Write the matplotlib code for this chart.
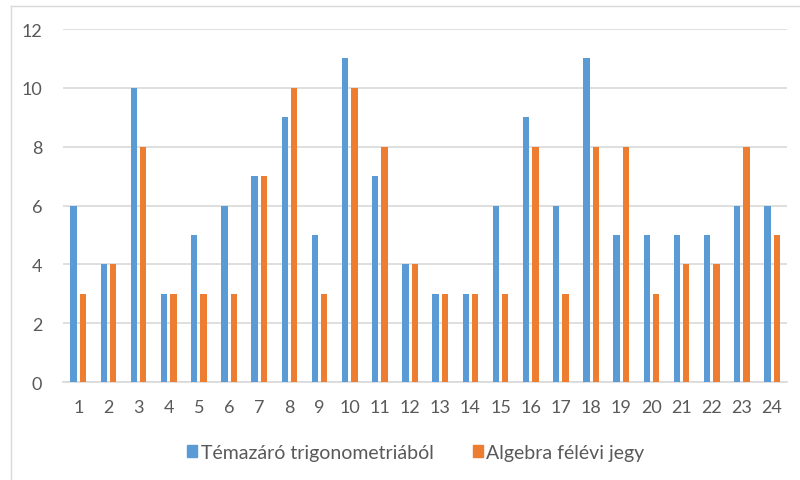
import matplotlib
matplotlib.use("Agg")
import matplotlib.pyplot as plt
import numpy as np
from matplotlib.patches import Patch
from matplotlib.lines import Line2D

categories = [str(i) for i in range(1, 25)]
trig = [6, 4, 10, 3, 5, 6, 7, 9, 5, 11, 7, 4, 3, 3, 6, 9, 6, 11, 5, 5, 5, 5, 6, 6]
algebra = [3, 4, 8, 3, 3, 3, 7, 10, 3, 10, 8, 4, 3, 3, 3, 8, 3, 8, 8, 3, 4, 4, 8, 5]
series_names = ["Témazáró trigonometriából", "Algebra félévi jegy"]
yticks = [0, 2, 4, 6, 8, 10, 12]

blue = "#5B9BD5"
orange = "#ED7D31"
grid = "#D9D9D9"
text = "#595959"

plt.rcParams["font.family"] = ["Lato", "DejaVu Sans"]

fig = plt.figure(figsize=(8, 4.81), dpi=100)
ax = fig.add_axes([0.079, 0.2037, 0.905, 0.7339])

x = np.arange(len(categories))
w = 0.21
off = 0.155
ax.bar(x - off, trig, width=w, color=blue, zorder=3)
ax.bar(x + off, algebra, width=w, color=orange, zorder=3)

ax.set_xlim(-0.5, len(categories) - 0.5)
ax.set_ylim(0, 12)
ax.set_yticks(yticks)
ax.set_xticks(x)
ax.set_xticklabels(categories)
ax.yaxis.grid(True, color=grid, linewidth=1.2, zorder=0)
ax.set_axisbelow(True)
for s in ["top", "right", "left"]:
    ax.spines[s].set_visible(False)
ax.spines["bottom"].set_color(grid)
ax.spines["bottom"].set_linewidth(1.2)
ax.tick_params(axis="both", length=0, labelsize=13, colors=text)
ax.tick_params(axis="y", pad=15)
ax.tick_params(axis="x", pad=12)

handles = [Patch(color=blue), Patch(color=orange)]
fig.legend(handles, series_names, loc="center", bbox_to_anchor=(0.52, 0.058),
           ncol=2, frameon=False, fontsize=14, labelcolor=text,
           handlelength=0.5, handleheight=0.55, handletextpad=0.2,
           columnspacing=2.0)

# outer chart frame
fig.add_artist(Line2D([10.5 / 800, 10.5 / 800], [0, 1 - 6.5 / 481],
                      transform=fig.transFigure, color=grid, linewidth=1))
fig.add_artist(Line2D([10.5 / 800, 1], [1 - 6.5 / 481, 1 - 6.5 / 481],
                      transform=fig.transFigure, color=grid, linewidth=1))

fig.savefig("out.png", dpi=100, facecolor="white")
